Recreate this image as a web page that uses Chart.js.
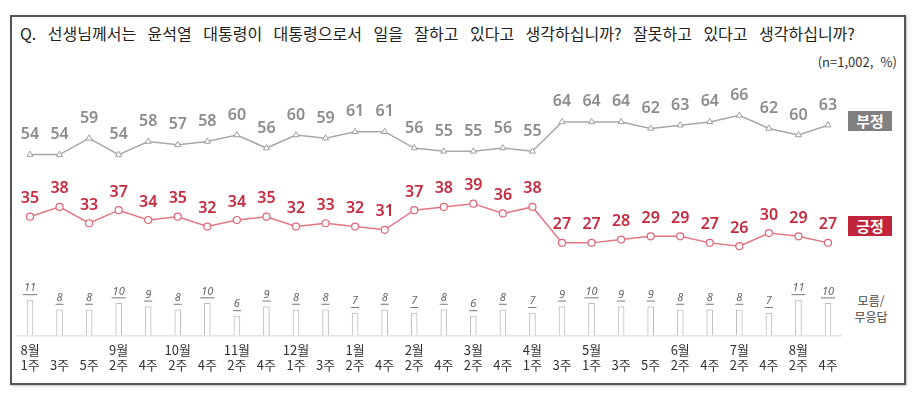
<!DOCTYPE html>
<html lang="ko">
<head>
<meta charset="utf-8">
<script src="https://cdn.jsdelivr.net/npm/chart.js@4.4.1/dist/chart.umd.min.js"></script>
<style>
 html,body{margin:0;padding:0;background:#fff;}
 body{width:912px;height:395px;position:relative;overflow:hidden;font-family:"Noto Sans CJK KR","Noto Sans",sans-serif;}
 .frame{position:absolute;left:10px;top:15px;width:892px;height:366px;border:2px solid #555;box-shadow:1px 1px 2px rgba(0,0,0,.25);}
 .title{position:absolute;left:20px;top:21px;font-size:16px;color:#222;white-space:nowrap;word-spacing:7px;}
 .unit{position:absolute;right:15px;top:52px;font-size:13px;color:#333;}
 .tag{position:absolute;left:848px;width:44px;height:20px;line-height:20px;text-align:center;color:#fff;font-size:15px;font-weight:700;}
 .neg{top:111px;background:#808080;}
 .pos{top:216px;background:#c1253b;}
 .dk{position:absolute;left:846px;top:293px;width:50px;text-align:center;font-size:12px;line-height:16px;color:#444;}
 canvas{position:absolute;left:0;top:0;}
</style>
</head>
<body>
<div class="frame"></div>
<div class="title">Q. 선생님께서는 윤석열 대통령이 대통령으로서 일을 잘하고 있다고 생각하십니까? 잘못하고 있다고 생각하십니까?</div>
<div class="unit">(n=1,002,&nbsp; %)</div>
<div class="tag neg">부정</div>
<div class="tag pos">긍정</div>
<div class="dk">모름/<br>무응답</div>
<canvas id="c" width="912" height="395"></canvas>
<script>
/* ---------------- data ---------------- */
const months=['8월','','','9월','','10월','','11월','','12월','','1월','','2월','','3월','','4월','','5월','','','6월','','7월','','8월',''];
const weeks=['1주','3주','5주','2주','4주','2주','4주','2주','4주','1주','3주','2주','4주','2주','4주','2주','4주','1주','3주','1주','3주','5주','2주','4주','2주','4주','2주','4주'];
const negative=[54,54,59,54,58,57,58,60,56,60,59,61,61,56,55,55,56,55,64,64,64,62,63,64,66,62,60,63];
const positive=[35,38,33,37,34,35,32,34,35,32,33,32,31,37,38,39,36,38,27,27,28,29,29,27,26,30,29,27];
const dontKnow=[11,8,8,10,9,8,10,6,9,8,8,7,8,7,8,6,8,7,9,10,9,9,8,8,8,7,11,10];

const labels=months.map((m,i)=>[m,weeks[i]]);

/* ---------------- value labels + baseline ---------------- */
const valueLabels={
 id:'valueLabels',
 beforeDatasetsDraw(chart){
  const {ctx,chartArea:a}=chart;
  ctx.save();ctx.strokeStyle='#d4d4d4';ctx.lineWidth=1;
  ctx.beginPath();ctx.moveTo(a.left-13,a.bottom+0.5);ctx.lineTo(a.right+14,a.bottom+0.5);ctx.stroke();
  ctx.restore();
 },
 afterDatasetsDraw(chart){
  const ctx=chart.ctx;
  ctx.save();ctx.textAlign='center';ctx.textBaseline='middle';
  chart.data.datasets.forEach((ds,di)=>{
   const meta=chart.getDatasetMeta(di);
   meta.data.forEach((el,i)=>{
    const v=ds.data[i];
    if(ds.type==='bar'){
     ctx.font='italic 11px "Noto Sans", sans-serif';ctx.fillStyle='#666';
     const y=el.y-12, w=ctx.measureText(String(v)).width;
     ctx.fillText(v,el.x,y);
     ctx.strokeStyle='#777';ctx.lineWidth=1;
     ctx.beginPath();ctx.moveTo(el.x-w/2-1,y+6.5);ctx.lineTo(el.x+w/2+1,y+6.5);ctx.stroke();
    }else{
     ctx.font='600 16px "Noto Sans", sans-serif';ctx.fillStyle=ds.labelColor;
     ctx.fillText(v,el.x,el.y-ds.labelGap);
    }
   });
  });
  ctx.restore();
 }
};

new Chart(document.getElementById('c'),{
 data:{labels,datasets:[
  {type:'line',label:'부정',data:negative,yAxisID:'y',borderColor:'#a8a8a8',borderWidth:1.5,
   pointStyle:'triangle',pointRadius:3.5,pointBackgroundColor:'#fff',pointBorderColor:'#a0a0a0',pointBorderWidth:1,
   labelColor:'#8c8c8c',labelGap:20,tension:0,clip:false},
  {type:'line',label:'긍정',data:positive,yAxisID:'y',borderColor:'#e37684',borderWidth:1.5,
   pointStyle:'circle',pointRadius:3.5,pointBackgroundColor:'#fff',pointBorderColor:'#df6676',pointBorderWidth:1.2,
   labelColor:'#c62b40',labelGap:18,tension:0,clip:false},
  {type:'bar',label:'모름/무응답',data:dontKnow,yAxisID:'y2',backgroundColor:'#fff',borderColor:'#bdbdbd',
   borderWidth:1,barThickness:6,clip:false}
 ]},
 options:{
  responsive:false,animation:false,
  layout:{padding:{left:30,right:84,top:100,bottom:23}},
  plugins:{legend:{display:false},tooltip:{enabled:false}},
  scales:{
   x:{type:'category',offset:false,grid:{display:false},border:{display:false},
      ticks:{autoSkip:false,maxRotation:0,padding:0,color:'#333',
             font:{family:'"Noto Sans CJK KR"',size:13,lineHeight:1.1}}},
   y:{display:false,min:-1.3,max:70.7},
   y2:{display:false,min:0,max:73.5}
  }
 },
 plugins:[valueLabels]
});
</script>
</body>
</html>
